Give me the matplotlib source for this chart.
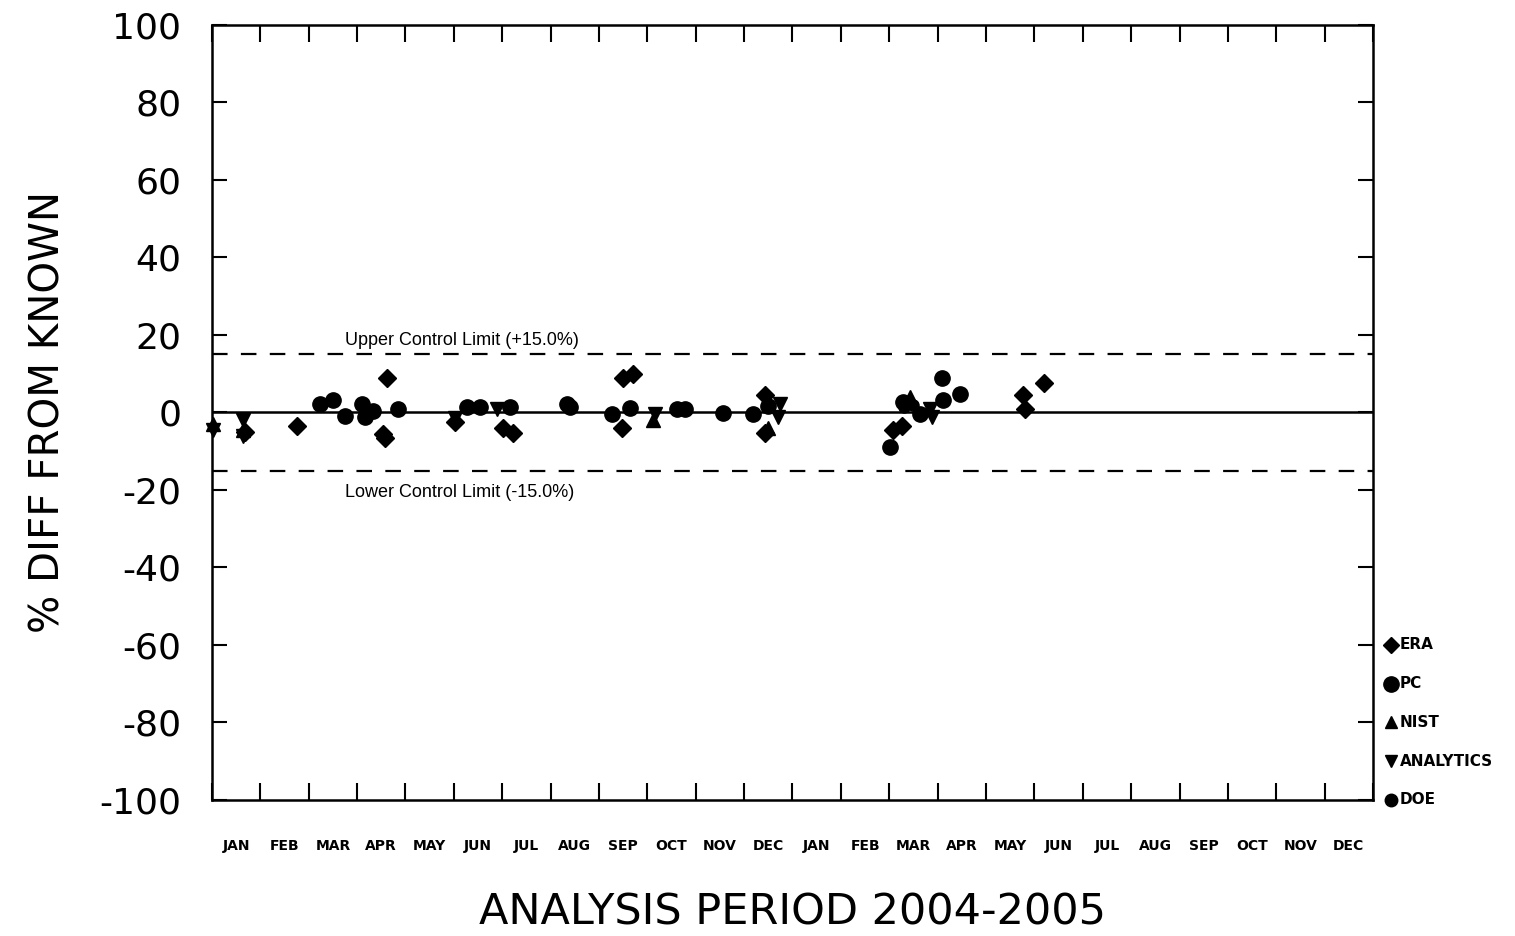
import matplotlib
matplotlib.use("Agg")
import matplotlib.pyplot as plt
import numpy as np

# month index (0 = start of Jan 2004) and % difference from known value
era_x = [0.68, 1.76, 3.62, 3.53, 3.58, 5.02, 6.02, 6.22, 8.50, 8.70, 8.48,
         11.43, 11.43, 14.08, 14.26, 16.76, 16.81, 17.20]
era_y = [-5.0, -3.4, 9.0, -5.5, -6.6, -2.5, -3.9, -5.4, 8.8, 10.0, -3.9,
         4.4, -5.4, -4.6, -3.4, 4.4, 0.8, 7.5]

pc_x = [2.23, 2.50, 2.75, 3.10, 3.16, 3.33, 3.84, 5.27, 5.54, 6.16, 7.34, 7.40,
        8.27, 8.64, 9.61, 9.78, 10.56, 11.18, 11.49, 14.02, 14.64, 15.11,
        15.09, 15.46, 14.28]
pc_y = [2.3, 3.1, -0.8, 2.3, -1.2, 0.5, 1.0, 1.3, 1.3, 1.3, 2.3, 1.3,
        -0.3, 1.2, 1.0, 0.8, -0.2, -0.5, 1.8, -9.0, -0.3, 3.1,
        8.8, 4.9, 2.6]

nist_x = [0.02, 0.64, 9.12, 11.49, 14.43]
nist_y = [-3.0, -4.5, -2.0, -3.9, 3.9]

analytics_x = [0.02, 0.64, 0.64, 5.02, 5.89, 9.16, 11.74, 11.70, 14.84, 14.88]
analytics_y = [-4.5, -2.0, -6.0, -1.5, 1.0, -0.3, 2.3, -1.2, 1.0, -1.2]

doe_x = [14.30, 14.50]
doe_y = [1.5, 2.0]

months = ["JAN", "FEB", "MAR", "APR", "MAY", "JUN",
          "JUL", "AUG", "SEP", "OCT", "NOV", "DEC"] * 2
limit = 15.0

fig = plt.figure(figsize=(15.15, 9.36), dpi=100)
ax = fig.add_axes([0.1399, 0.1453, 0.7664, 0.828])

ax.axhline(0, color="black", lw=1.8)
ax.axhline(limit, color="black", lw=1.6, ls=(0, (7, 6)))
ax.axhline(-limit, color="black", lw=1.6, ls=(0, (7, 6)))
ax.text(2.75, limit + 2.3, "Upper Control Limit (+%.1f%%)" % limit,
        fontsize=13, family="Liberation Sans")
ax.text(2.75, -limit - 6.8, "Lower Control Limit (-%.1f%%)" % limit,
        fontsize=13, family="Liberation Sans")

ax.plot(era_x, era_y, "D", color="black", ms=9, ls="none", clip_on=False)
ax.plot(pc_x, pc_y, "o", color="black", ms=11, ls="none", clip_on=False)
ax.plot(nist_x, nist_y, "^", color="black", ms=10, ls="none", clip_on=False)
ax.plot(analytics_x, analytics_y, "v", color="black", ms=10, ls="none",
        clip_on=False)
ax.plot(doe_x, doe_y, "o", color="black", ms=8, ls="none", clip_on=False)

# key drawn beside the right frame
key = [("D", 8, "ERA"), ("o", 11, "PC"), ("^", 8, "NIST"),
       ("v", 8, "ANALYTICS"), ("o", 9, "DOE")]
for i, (m, s, name) in enumerate(key):
    yy = -60 - 10 * i
    ax.plot(24.38, yy, m, color="black", ms=s, clip_on=False)
    ax.text(24.55, yy, name, va="center", fontsize=11, weight="bold",
            family="Liberation Sans Narrow", clip_on=False)

ax.set_xlim(0, 24)
ax.set_ylim(-100, 100)
ax.set_xticks(np.arange(0, 25))
ax.set_xticklabels([])
ax.set_xticks(np.arange(0.5, 24), minor=True)
ax.set_xticklabels(months, minor=True, fontsize=10, weight="bold",
                   family="Liberation Sans Narrow")
ax.tick_params(axis="x", which="major", direction="in", length=12, width=1.5,
               top=True, bottom=True)
ax.tick_params(axis="x", which="minor", length=0, pad=28)
ax.set_yticks(np.arange(-100, 101, 20))
ax.set_yticklabels([str(v) for v in range(-100, 101, 20)], fontsize=26,
                   family="DejaVu Sans")
ax.tick_params(axis="y", direction="in", length=11, width=1.5,
               left=True, right=True, pad=22)
for sp in ax.spines.values():
    sp.set_linewidth(1.8)

ax.set_ylabel("% DIFF FROM KNOWN", fontsize=29, family="DejaVu Sans",
              labelpad=22)
ax.set_xlabel("ANALYSIS PERIOD 2004-2005", fontsize=31,
              family="DejaVu Sans", labelpad=28)

fig.savefig("out.png", dpi=100)
